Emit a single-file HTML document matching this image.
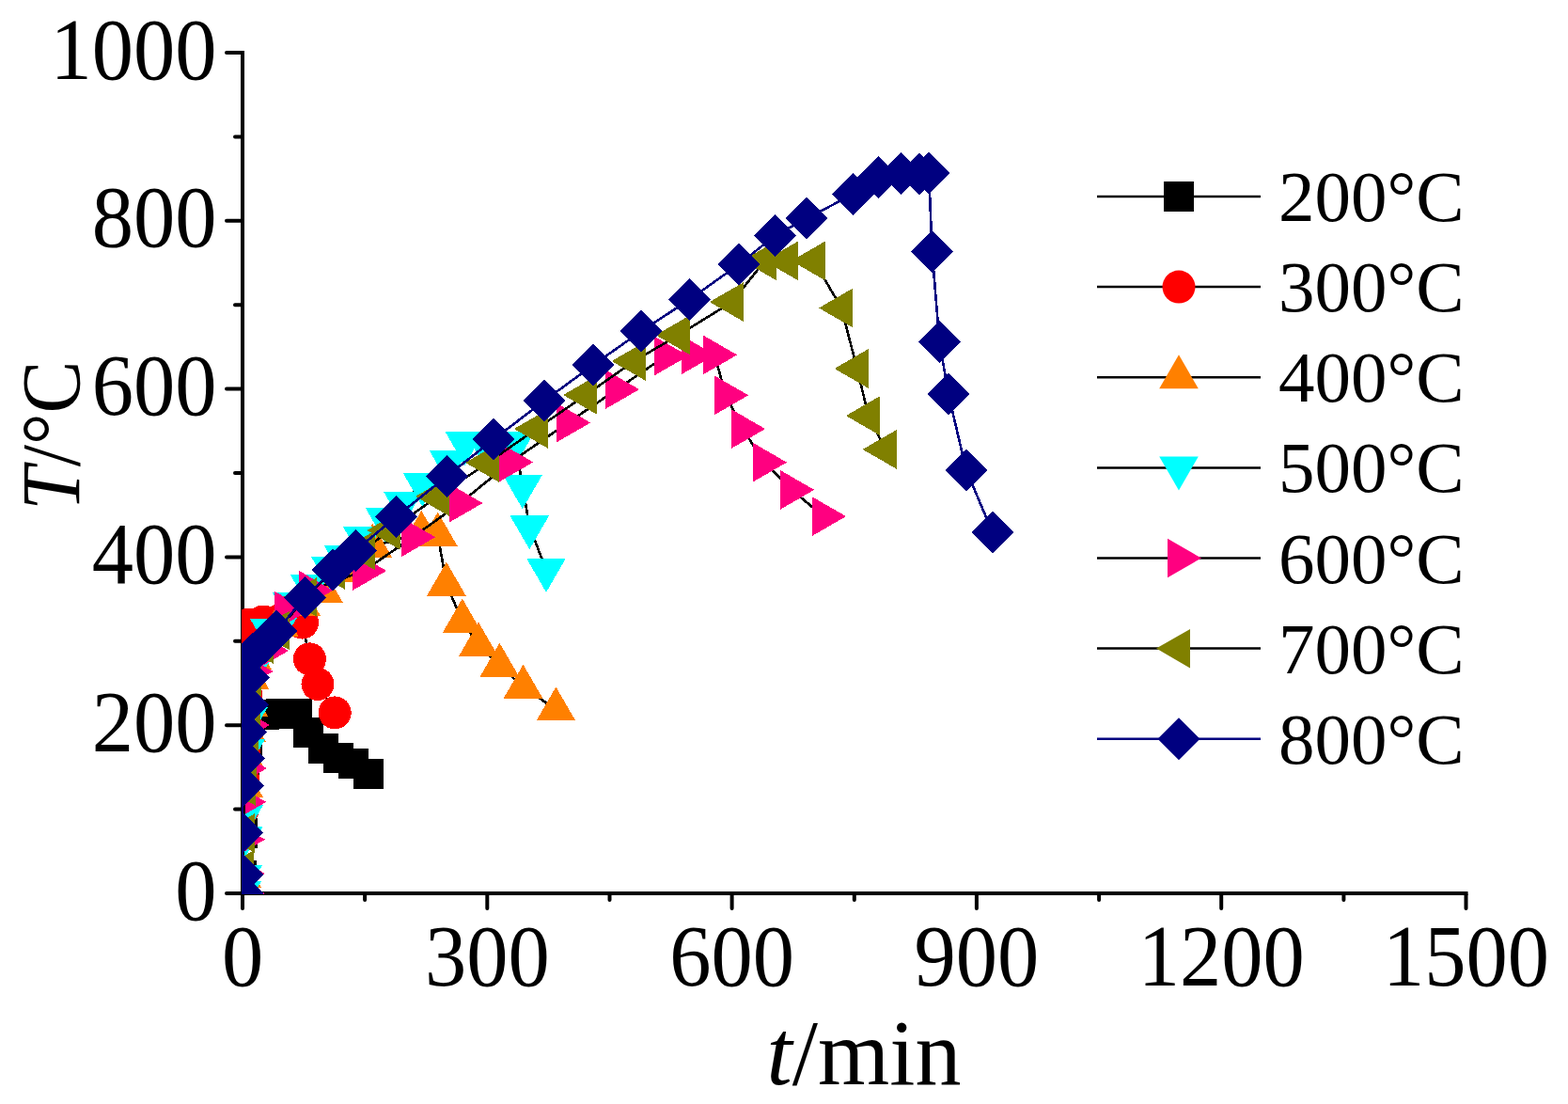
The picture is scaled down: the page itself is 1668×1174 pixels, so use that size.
<!DOCTYPE html>
<html><head><meta charset="utf-8"><title>T vs t</title>
<style>
html,body{margin:0;padding:0;background:#fff;}
svg{display:block;}
text{font-family:"Liberation Serif","Times New Roman",serif;fill:#000;}
</style></head><body>
<svg width="1668" height="1174" viewBox="0 0 1668 1174">
<rect width="1668" height="1174" fill="#fff"/>
<defs><clipPath id="pc"><rect x="257" y="40" width="1310" height="911"/></clipPath></defs>
<g stroke="#000" stroke-width="4" fill="none" stroke-linecap="butt">
<line x1="258" y1="54" x2="258" y2="952"/>
<line x1="256" y1="950" x2="1561.5" y2="950"/>
</g>
<g stroke="#000" stroke-width="4" fill="none" stroke-linecap="round">
<line x1="241" y1="950" x2="257" y2="950"/>
<line x1="250" y1="860.6" x2="257" y2="860.6"/>
<line x1="241" y1="771.2" x2="257" y2="771.2"/>
<line x1="250" y1="681.8" x2="257" y2="681.8"/>
<line x1="241" y1="592.4" x2="257" y2="592.4"/>
<line x1="250" y1="503" x2="257" y2="503"/>
<line x1="241" y1="413.6" x2="257" y2="413.6"/>
<line x1="250" y1="324.2" x2="257" y2="324.2"/>
<line x1="241" y1="234.8" x2="257" y2="234.8"/>
<line x1="250" y1="145.4" x2="257" y2="145.4"/>
<line x1="241" y1="56" x2="257" y2="56"/>
<line x1="258" y1="951" x2="258" y2="966"/>
<line x1="388.1" y1="951" x2="388.1" y2="957"/>
<line x1="518.3" y1="951" x2="518.3" y2="966"/>
<line x1="648.5" y1="951" x2="648.5" y2="957"/>
<line x1="778.6" y1="951" x2="778.6" y2="966"/>
<line x1="908.8" y1="951" x2="908.8" y2="957"/>
<line x1="1038.9" y1="951" x2="1038.9" y2="966"/>
<line x1="1169.1" y1="951" x2="1169.1" y2="957"/>
<line x1="1299.2" y1="951" x2="1299.2" y2="966"/>
<line x1="1429.4" y1="951" x2="1429.4" y2="957"/>
<line x1="1559.5" y1="951" x2="1559.5" y2="966"/>
</g>
<g font-size="92.4">
<text text-anchor="end" transform="translate(230.5,977.5) scale(0.958,1)">0</text>
<text text-anchor="end" transform="translate(230.5,798.7) scale(0.958,1)">200</text>
<text text-anchor="end" transform="translate(230.5,619.9) scale(0.958,1)">400</text>
<text text-anchor="end" transform="translate(230.5,441.1) scale(0.958,1)">600</text>
<text text-anchor="end" transform="translate(230.5,262.3) scale(0.958,1)">800</text>
<text text-anchor="end" transform="translate(230.5,83.5) scale(0.958,1)">1000</text>
<text text-anchor="middle" transform="translate(258,1047.5) scale(0.958,1)">0</text>
<text text-anchor="middle" transform="translate(518.3,1047.5) scale(0.958,1)">300</text>
<text text-anchor="middle" transform="translate(778.6,1047.5) scale(0.958,1)">600</text>
<text text-anchor="middle" transform="translate(1038.9,1047.5) scale(0.958,1)">900</text>
<text text-anchor="middle" transform="translate(1299.2,1047.5) scale(0.958,1)">1200</text>
<text text-anchor="middle" transform="translate(1559.5,1047.5) scale(0.958,1)">1500</text>
</g>
<text font-size="100" transform="translate(815.5,1153) scale(0.98,1)"><tspan font-style="italic">t</tspan>/min</text>
<text font-size="88" transform="translate(83.5,542.8) rotate(-90) scale(0.952,1)"><tspan font-style="italic">T</tspan>/°C</text>
<g clip-path="url(#pc)" shape-rendering="crispEdges">
<polyline fill="none" stroke="#000" stroke-width="2.6" stroke-linejoin="round" points="258,950 257,931 257.9,886 259,838 260,810 263,790 281,760 299,759 315.8,759 327.9,778.8 343.5,795.9 359.5,805.9 376,812 392.1,822.5"/>
<rect x="242" y="934" width="32" height="32" fill="#000000"/>
<rect x="241" y="915" width="32" height="32" fill="#000000"/>
<rect x="241.9" y="870" width="32" height="32" fill="#000000"/>
<rect x="243" y="822" width="32" height="32" fill="#000000"/>
<rect x="244" y="794" width="32" height="32" fill="#000000"/>
<rect x="247" y="774" width="32" height="32" fill="#000000"/>
<rect x="265" y="744" width="32" height="32" fill="#000000"/>
<rect x="283" y="743" width="32" height="32" fill="#000000"/>
<rect x="299.8" y="743" width="32" height="32" fill="#000000"/>
<rect x="311.9" y="762.8" width="32" height="32" fill="#000000"/>
<rect x="327.5" y="779.9" width="32" height="32" fill="#000000"/>
<rect x="343.5" y="789.9" width="32" height="32" fill="#000000"/>
<rect x="360" y="796" width="32" height="32" fill="#000000"/>
<rect x="376.1" y="806.5" width="32" height="32" fill="#000000"/>
<polyline fill="none" stroke="#000" stroke-width="2.6" stroke-linejoin="round" points="258,950 258,888 258.5,860 259,830 260,800 261,770 262,740 263,712 264,685 265,664 280,661 297,660 321.5,662.1 329.4,700.9 338,727.5 356.2,757.9"/>
<circle cx="258" cy="950" r="17.5" fill="#FF0000"/>
<circle cx="258" cy="888" r="17.5" fill="#FF0000"/>
<circle cx="258.5" cy="860" r="17.5" fill="#FF0000"/>
<circle cx="259" cy="830" r="17.5" fill="#FF0000"/>
<circle cx="260" cy="800" r="17.5" fill="#FF0000"/>
<circle cx="261" cy="770" r="17.5" fill="#FF0000"/>
<circle cx="262" cy="740" r="17.5" fill="#FF0000"/>
<circle cx="263" cy="712" r="17.5" fill="#FF0000"/>
<circle cx="264" cy="685" r="17.5" fill="#FF0000"/>
<circle cx="265" cy="664" r="17.5" fill="#FF0000"/>
<circle cx="280" cy="661" r="17.5" fill="#FF0000"/>
<circle cx="297" cy="660" r="17.5" fill="#FF0000"/>
<circle cx="321.5" cy="662.1" r="17.5" fill="#FF0000"/>
<circle cx="329.4" cy="700.9" r="17.5" fill="#FF0000"/>
<circle cx="338" cy="727.5" r="17.5" fill="#FF0000"/>
<circle cx="356.2" cy="757.9" r="17.5" fill="#FF0000"/>
<polyline fill="none" stroke="#000" stroke-width="2.6" stroke-linejoin="round" points="257,950 257.2,932 259.2,835.9 260.5,805 261.9,776.6 264.2,749.5 265.5,721 268,700 296.5,664.6 320.1,642.7 343.9,628.7 368,606.6 396.4,580.8 448.3,567 465.7,568.5 474.9,621.6 491.8,660.5 509,685.6 531.4,707.6 556.5,730.6 591.4,754.4"/>
<polygon points="257,926 277.8,962 236.2,962" fill="#FF8000"/>
<polygon points="257.2,908 278,944 236.4,944" fill="#FF8000"/>
<polygon points="259.2,811.9 280,847.9 238.4,847.9" fill="#FF8000"/>
<polygon points="260.5,781 281.3,817 239.7,817" fill="#FF8000"/>
<polygon points="261.9,752.6 282.7,788.6 241.1,788.6" fill="#FF8000"/>
<polygon points="264.2,725.5 285,761.5 243.4,761.5" fill="#FF8000"/>
<polygon points="265.5,697 286.3,733 244.7,733" fill="#FF8000"/>
<polygon points="268,676 288.8,712 247.2,712" fill="#FF8000"/>
<polygon points="296.5,640.6 317.3,676.6 275.7,676.6" fill="#FF8000"/>
<polygon points="320.1,618.7 340.9,654.7 299.3,654.7" fill="#FF8000"/>
<polygon points="343.9,604.7 364.7,640.7 323.1,640.7" fill="#FF8000"/>
<polygon points="368,582.6 388.8,618.6 347.2,618.6" fill="#FF8000"/>
<polygon points="396.4,556.8 417.2,592.8 375.6,592.8" fill="#FF8000"/>
<polygon points="448.3,543 469.1,579 427.5,579" fill="#FF8000"/>
<polygon points="465.7,544.5 486.5,580.5 444.9,580.5" fill="#FF8000"/>
<polygon points="474.9,597.6 495.7,633.6 454.1,633.6" fill="#FF8000"/>
<polygon points="491.8,636.5 512.6,672.5 471,672.5" fill="#FF8000"/>
<polygon points="509,661.6 529.8,697.6 488.2,697.6" fill="#FF8000"/>
<polygon points="531.4,683.6 552.2,719.6 510.6,719.6" fill="#FF8000"/>
<polygon points="556.5,706.6 577.3,742.6 535.7,742.6" fill="#FF8000"/>
<polygon points="591.4,730.4 612.2,766.4 570.6,766.4" fill="#FF8000"/>
<polyline fill="none" stroke="#000" stroke-width="2.6" stroke-linejoin="round" points="257.2,949 258.2,932 259.2,890.5 259.2,868 261.2,798 264,764 268,712 286.7,669.9 310.6,642.1 329.5,623 351.8,604.1 365.6,592.2 385.7,572.1 409.5,552.1 428.7,534.5 449.4,514.9 477.5,491 494.3,471 515,471 548,471 555.9,517.3 563.3,560.3 581,605.9"/>
<polygon points="257.2,973 278,937 236.4,937" fill="#00FFFF"/>
<polygon points="258.2,956 279,920 237.4,920" fill="#00FFFF"/>
<polygon points="259.2,914.5 280,878.5 238.4,878.5" fill="#00FFFF"/>
<polygon points="259.2,892 280,856 238.4,856" fill="#00FFFF"/>
<polygon points="261.2,822 282,786 240.4,786" fill="#00FFFF"/>
<polygon points="264,788 284.8,752 243.2,752" fill="#00FFFF"/>
<polygon points="268,736 288.8,700 247.2,700" fill="#00FFFF"/>
<polygon points="286.7,693.9 307.5,657.9 265.9,657.9" fill="#00FFFF"/>
<polygon points="310.6,666.1 331.4,630.1 289.8,630.1" fill="#00FFFF"/>
<polygon points="329.5,647 350.3,611 308.7,611" fill="#00FFFF"/>
<polygon points="351.8,628.1 372.6,592.1 331,592.1" fill="#00FFFF"/>
<polygon points="365.6,616.2 386.4,580.2 344.8,580.2" fill="#00FFFF"/>
<polygon points="385.7,596.1 406.5,560.1 364.9,560.1" fill="#00FFFF"/>
<polygon points="409.5,576.1 430.3,540.1 388.7,540.1" fill="#00FFFF"/>
<polygon points="428.7,558.5 449.5,522.5 407.9,522.5" fill="#00FFFF"/>
<polygon points="449.4,538.9 470.2,502.9 428.6,502.9" fill="#00FFFF"/>
<polygon points="477.5,515 498.3,479 456.7,479" fill="#00FFFF"/>
<polygon points="494.3,495 515.1,459 473.5,459" fill="#00FFFF"/>
<polygon points="515,495 535.8,459 494.2,459" fill="#00FFFF"/>
<polygon points="548,495 568.8,459 527.2,459" fill="#00FFFF"/>
<polygon points="555.9,541.3 576.7,505.3 535.1,505.3" fill="#00FFFF"/>
<polygon points="563.3,584.3 584.1,548.3 542.5,548.3" fill="#00FFFF"/>
<polygon points="581,629.9 601.8,593.9 560.2,593.9" fill="#00FFFF"/>
<polyline fill="none" stroke="#000" stroke-width="2.6" stroke-linejoin="round" points="258,950 258,929 258,892.7 259.2,852.8 260,817 263,771 266.4,714 283,692 304.1,649.5 330.2,627.8 387.2,607 439.2,571.2 489.5,535 543.2,491.5 604.2,449.5 656.1,414.1 708.2,378.5 736.8,377.4 760.1,377.4 772.1,420.3 790.1,456.1 813,491.7 842.2,520.9 876,549.1"/>
<polygon points="282,950 246,970.8 246,929.2" fill="#FF0080"/>
<polygon points="282,929 246,949.8 246,908.2" fill="#FF0080"/>
<polygon points="282,892.7 246,913.5 246,871.9" fill="#FF0080"/>
<polygon points="283.2,852.8 247.2,873.6 247.2,832" fill="#FF0080"/>
<polygon points="284,817 248,837.8 248,796.2" fill="#FF0080"/>
<polygon points="287,771 251,791.8 251,750.2" fill="#FF0080"/>
<polygon points="290.4,714 254.4,734.8 254.4,693.2" fill="#FF0080"/>
<polygon points="307,692 271,712.8 271,671.2" fill="#FF0080"/>
<polygon points="328.1,649.5 292.1,670.3 292.1,628.7" fill="#FF0080"/>
<polygon points="354.2,627.8 318.2,648.6 318.2,607" fill="#FF0080"/>
<polygon points="411.2,607 375.2,627.8 375.2,586.2" fill="#FF0080"/>
<polygon points="463.2,571.2 427.2,592 427.2,550.4" fill="#FF0080"/>
<polygon points="513.5,535 477.5,555.8 477.5,514.2" fill="#FF0080"/>
<polygon points="567.2,491.5 531.2,512.3 531.2,470.7" fill="#FF0080"/>
<polygon points="628.2,449.5 592.2,470.3 592.2,428.7" fill="#FF0080"/>
<polygon points="680.1,414.1 644.1,434.9 644.1,393.3" fill="#FF0080"/>
<polygon points="732.2,378.5 696.2,399.3 696.2,357.7" fill="#FF0080"/>
<polygon points="760.8,377.4 724.8,398.2 724.8,356.6" fill="#FF0080"/>
<polygon points="784.1,377.4 748.1,398.2 748.1,356.6" fill="#FF0080"/>
<polygon points="796.1,420.3 760.1,441.1 760.1,399.5" fill="#FF0080"/>
<polygon points="814.1,456.1 778.1,476.9 778.1,435.3" fill="#FF0080"/>
<polygon points="837,491.7 801,512.5 801,470.9" fill="#FF0080"/>
<polygon points="866.2,520.9 830.2,541.7 830.2,500.1" fill="#FF0080"/>
<polygon points="900,549.1 864,569.9 864,528.3" fill="#FF0080"/>
<polyline fill="none" stroke="#000" stroke-width="2.6" stroke-linejoin="round" points="258,925 258.8,886 259.9,836 260.7,810 263,780 265,750 266.2,720 279,685 296,670.5 325,635 354.8,606 386.7,585.3 414.2,564 465.8,528 519,492 570.9,456 623.1,420 674.7,384 721.7,356.3 778.8,321.1 813.7,277.2 836.9,277.4 865.8,277.4 895.1,327.5 911.7,392 923.9,442.1 941.7,477.9"/>
<polygon points="234,925 270,945.8 270,904.2" fill="#808000"/>
<polygon points="234.8,886 270.8,906.8 270.8,865.2" fill="#808000"/>
<polygon points="235.9,836 271.9,856.8 271.9,815.2" fill="#808000"/>
<polygon points="236.7,810 272.7,830.8 272.7,789.2" fill="#808000"/>
<polygon points="239,780 275,800.8 275,759.2" fill="#808000"/>
<polygon points="241,750 277,770.8 277,729.2" fill="#808000"/>
<polygon points="242.2,720 278.2,740.8 278.2,699.2" fill="#808000"/>
<polygon points="255,685 291,705.8 291,664.2" fill="#808000"/>
<polygon points="272,670.5 308,691.3 308,649.7" fill="#808000"/>
<polygon points="301,635 337,655.8 337,614.2" fill="#808000"/>
<polygon points="330.8,606 366.8,626.8 366.8,585.2" fill="#808000"/>
<polygon points="362.7,585.3 398.7,606.1 398.7,564.5" fill="#808000"/>
<polygon points="390.2,564 426.2,584.8 426.2,543.2" fill="#808000"/>
<polygon points="441.8,528 477.8,548.8 477.8,507.2" fill="#808000"/>
<polygon points="495,492 531,512.8 531,471.2" fill="#808000"/>
<polygon points="546.9,456 582.9,476.8 582.9,435.2" fill="#808000"/>
<polygon points="599.1,420 635.1,440.8 635.1,399.2" fill="#808000"/>
<polygon points="650.7,384 686.7,404.8 686.7,363.2" fill="#808000"/>
<polygon points="697.7,356.3 733.7,377.1 733.7,335.5" fill="#808000"/>
<polygon points="754.8,321.1 790.8,341.9 790.8,300.3" fill="#808000"/>
<polygon points="789.7,277.2 825.7,298 825.7,256.4" fill="#808000"/>
<polygon points="812.9,277.4 848.9,298.2 848.9,256.6" fill="#808000"/>
<polygon points="841.8,277.4 877.8,298.2 877.8,256.6" fill="#808000"/>
<polygon points="871.1,327.5 907.1,348.3 907.1,306.7" fill="#808000"/>
<polygon points="887.7,392 923.7,412.8 923.7,371.2" fill="#808000"/>
<polygon points="899.9,442.1 935.9,462.9 935.9,421.3" fill="#808000"/>
<polygon points="917.7,477.9 953.7,498.7 953.7,457.1" fill="#808000"/>
<polyline fill="none" stroke="#000080" stroke-width="2.6" stroke-linejoin="round" points="258,950 258.3,930.2 257.7,885.3 258.6,835.3 259.4,806.9 261.5,778.4 263.7,749.5 264.6,720.8 268.4,695.7 281.4,683.3 294.3,671 324,635.5 354.2,606.3 378.2,585.4 421.7,549.3 475.4,506.4 525,467.3 578.9,426.3 630.8,388.3 681.9,352.4 733.7,318.4 786.3,280.9 824.5,250.5 858.4,232.1 907.8,206.4 934.8,188.6 958.4,184.4 978,185.3 988.2,184.2 991.5,267.4 999.4,363.6 1008.9,419 1027.8,500 1056.1,566.4"/>
<polygon points="258,927.5 280.5,950 258,972.5 235.5,950" fill="#000080"/>
<polygon points="258.3,907.7 280.8,930.2 258.3,952.7 235.8,930.2" fill="#000080"/>
<polygon points="257.7,862.8 280.2,885.3 257.7,907.8 235.2,885.3" fill="#000080"/>
<polygon points="258.6,812.8 281.1,835.3 258.6,857.8 236.1,835.3" fill="#000080"/>
<polygon points="259.4,784.4 281.9,806.9 259.4,829.4 236.9,806.9" fill="#000080"/>
<polygon points="261.5,755.9 284,778.4 261.5,800.9 239,778.4" fill="#000080"/>
<polygon points="263.7,727 286.2,749.5 263.7,772 241.2,749.5" fill="#000080"/>
<polygon points="264.6,698.3 287.1,720.8 264.6,743.3 242.1,720.8" fill="#000080"/>
<polygon points="268.4,673.2 290.9,695.7 268.4,718.2 245.9,695.7" fill="#000080"/>
<polygon points="281.4,660.8 303.9,683.3 281.4,705.8 258.9,683.3" fill="#000080"/>
<polygon points="294.3,648.5 316.8,671 294.3,693.5 271.8,671" fill="#000080"/>
<polygon points="324,613 346.5,635.5 324,658 301.5,635.5" fill="#000080"/>
<polygon points="354.2,583.8 376.7,606.3 354.2,628.8 331.7,606.3" fill="#000080"/>
<polygon points="378.2,562.9 400.7,585.4 378.2,607.9 355.7,585.4" fill="#000080"/>
<polygon points="421.7,526.8 444.2,549.3 421.7,571.8 399.2,549.3" fill="#000080"/>
<polygon points="475.4,483.9 497.9,506.4 475.4,528.9 452.9,506.4" fill="#000080"/>
<polygon points="525,444.8 547.5,467.3 525,489.8 502.5,467.3" fill="#000080"/>
<polygon points="578.9,403.8 601.4,426.3 578.9,448.8 556.4,426.3" fill="#000080"/>
<polygon points="630.8,365.8 653.3,388.3 630.8,410.8 608.3,388.3" fill="#000080"/>
<polygon points="681.9,329.9 704.4,352.4 681.9,374.9 659.4,352.4" fill="#000080"/>
<polygon points="733.7,295.9 756.2,318.4 733.7,340.9 711.2,318.4" fill="#000080"/>
<polygon points="786.3,258.4 808.8,280.9 786.3,303.4 763.8,280.9" fill="#000080"/>
<polygon points="824.5,228 847,250.5 824.5,273 802,250.5" fill="#000080"/>
<polygon points="858.4,209.6 880.9,232.1 858.4,254.6 835.9,232.1" fill="#000080"/>
<polygon points="907.8,183.9 930.3,206.4 907.8,228.9 885.3,206.4" fill="#000080"/>
<polygon points="934.8,166.1 957.3,188.6 934.8,211.1 912.3,188.6" fill="#000080"/>
<polygon points="958.4,161.9 980.9,184.4 958.4,206.9 935.9,184.4" fill="#000080"/>
<polygon points="978,162.8 1000.5,185.3 978,207.8 955.5,185.3" fill="#000080"/>
<polygon points="988.2,161.7 1010.7,184.2 988.2,206.7 965.7,184.2" fill="#000080"/>
<polygon points="991.5,244.9 1014,267.4 991.5,289.9 969,267.4" fill="#000080"/>
<polygon points="999.4,341.1 1021.9,363.6 999.4,386.1 976.9,363.6" fill="#000080"/>
<polygon points="1008.9,396.5 1031.4,419 1008.9,441.5 986.4,419" fill="#000080"/>
<polygon points="1027.8,477.5 1050.3,500 1027.8,522.5 1005.3,500" fill="#000080"/>
<polygon points="1056.1,543.9 1078.6,566.4 1056.1,588.9 1033.6,566.4" fill="#000080"/>
</g>
<line x1="1167" y1="209" x2="1341" y2="209" stroke="#000" stroke-width="2.5"/>
<rect x="1238" y="193" width="32" height="32" fill="#000000"/>
<text font-size="77" x="1360" y="235">200°C</text>
<line x1="1167" y1="305.1" x2="1341" y2="305.1" stroke="#000" stroke-width="2.5"/>
<circle cx="1254" cy="305.1" r="17.5" fill="#FF0000"/>
<text font-size="77" x="1360" y="331.1">300°C</text>
<line x1="1167" y1="401.3" x2="1341" y2="401.3" stroke="#000" stroke-width="2.5"/>
<polygon points="1254,377.3 1274.8,413.3 1233.2,413.3" fill="#FF8000"/>
<text font-size="77" x="1360" y="427.3">400°C</text>
<line x1="1167" y1="497.4" x2="1341" y2="497.4" stroke="#000" stroke-width="2.5"/>
<polygon points="1254,521.4 1274.8,485.4 1233.2,485.4" fill="#00FFFF"/>
<text font-size="77" x="1360" y="523.4">500°C</text>
<line x1="1167" y1="593.5" x2="1341" y2="593.5" stroke="#000" stroke-width="2.5"/>
<polygon points="1278,593.5 1242,614.3 1242,572.7" fill="#FF0080"/>
<text font-size="77" x="1360" y="619.5">600°C</text>
<line x1="1167" y1="689.6" x2="1341" y2="689.6" stroke="#000" stroke-width="2.5"/>
<polygon points="1230,689.6 1266,710.4 1266,668.9" fill="#808000"/>
<text font-size="77" x="1360" y="715.6">700°C</text>
<line x1="1167" y1="785.8" x2="1341" y2="785.8" stroke="#000080" stroke-width="2.5"/>
<polygon points="1254,763.3 1276.5,785.8 1254,808.3 1231.5,785.8" fill="#000080"/>
<text font-size="77" x="1360" y="811.8">800°C</text>
</svg>
</body></html>
